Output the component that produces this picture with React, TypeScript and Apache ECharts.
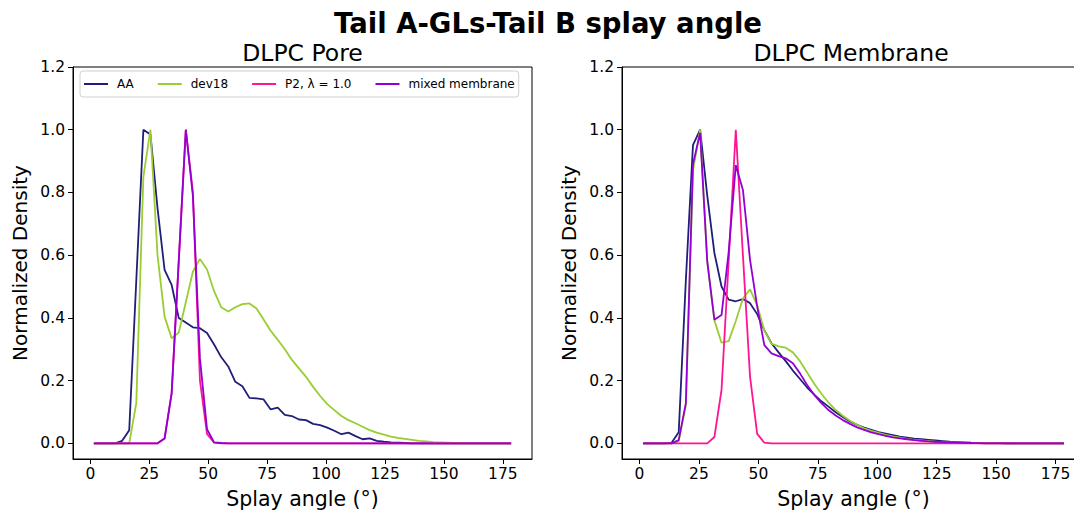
import React, { useEffect, useRef } from "react";
import * as echarts from "echarts";

const angles = [
  1.5, 4.5, 7.5, 10.5, 13.5, 16.5, 19.5, 22.5, 25.5, 28.5,
  31.5, 34.5, 37.5, 40.5, 43.5, 46.5, 49.5, 52.5, 55.5, 58.5,
  61.5, 64.5, 67.5, 70.5, 73.5, 76.5, 79.5, 82.5, 85.5, 88.5,
  91.5, 94.5, 97.5, 100.5, 103.5, 106.5, 109.5, 112.5, 115.5, 118.5,
  121.5, 124.5, 127.5, 130.5, 133.5, 136.5, 139.5, 142.5, 145.5, 148.5,
  151.5, 154.5, 157.5, 160.5, 163.5, 166.5, 169.5, 172.5, 175.5, 178.5,
];

const seriesNames = ["AA", "dev18", "P2, λ = 1.0", "mixed membrane"];
const seriesColors = ["#1f1f78", "#9acd32", "#ff1493", "#9400d3"];

const poreAA = [
  0, 0, 0, 0, 0.008, 0.042, 0.52, 1.0, 0.985, 0.75,
  0.553, 0.505, 0.4, 0.385, 0.37, 0.367, 0.352, 0.315, 0.275, 0.245,
  0.196, 0.182, 0.145, 0.143, 0.14, 0.108, 0.114, 0.091, 0.087, 0.076,
  0.074, 0.062, 0.058, 0.05, 0.04, 0.029, 0.034, 0.023, 0.013, 0.016,
  0.008, 0.005, 0.003, 0.002, 0.001, 0, 0, 0, 0, 0,
  0, 0, 0, 0, 0, 0, 0, 0, 0, 0,
];
const poreDev18 = [
  0, 0, 0, 0, 0, 0, 0.128, 0.85, 1.0, 0.6,
  0.404, 0.335, 0.353, 0.45, 0.547, 0.588, 0.554, 0.485, 0.434, 0.42,
  0.434, 0.444, 0.446, 0.43, 0.395, 0.359, 0.33, 0.3, 0.266, 0.239,
  0.212, 0.18, 0.151, 0.125, 0.106, 0.087, 0.074, 0.064, 0.053, 0.042,
  0.034, 0.028, 0.021, 0.017, 0.014, 0.011, 0.008, 0.006, 0.004, 0.003,
  0.002, 0.001, 0, 0, 0, 0, 0, 0, 0, 0,
];
const poreP2 = [
  0, 0, 0, 0, 0, 0, 0, 0, 0, 0,
  0.015, 0.16, 0.58, 1.0, 0.8, 0.2, 0.03, 0.002, 0, 0,
  0, 0, 0, 0, 0, 0, 0, 0, 0, 0,
  0, 0, 0, 0, 0, 0, 0, 0, 0, 0,
  0, 0, 0, 0, 0, 0, 0, 0, 0, 0,
  0, 0, 0, 0, 0, 0, 0, 0, 0, 0,
];
const poreMixed = [
  0, 0, 0, 0, 0, 0, 0, 0, 0, 0,
  0.015, 0.16, 0.58, 1.0, 0.79, 0.27, 0.045, 0.003, 0.001, 0,
  0, 0, 0, 0, 0, 0, 0, 0, 0, 0,
  0, 0, 0, 0, 0, 0, 0, 0, 0, 0,
  0, 0, 0, 0, 0, 0, 0, 0, 0, 0,
  0, 0, 0, 0, 0, 0, 0, 0, 0, 0,
];

const membAA = [
  0, 0, 0, 0, 0.002, 0.035, 0.52, 0.951, 1.0, 0.79,
  0.607, 0.5, 0.458, 0.453, 0.46, 0.447, 0.412, 0.361, 0.319, 0.29,
  0.262, 0.232, 0.205, 0.178, 0.155, 0.134, 0.117, 0.099, 0.084, 0.07,
  0.059, 0.05, 0.043, 0.036, 0.031, 0.026, 0.021, 0.018, 0.015, 0.013,
  0.011, 0.009, 0.007, 0.005, 0.004, 0.003, 0.002, 0.0015, 0.001, 0.0007,
  0.0004, 0.0002, 0, 0, 0, 0, 0, 0, 0, 0,
];
const membDev18 = [
  0, 0, 0, 0, 0, 0.008, 0.12, 0.87, 1.0, 0.58,
  0.392, 0.321, 0.326, 0.39, 0.462, 0.491, 0.44, 0.36, 0.318, 0.309,
  0.305, 0.29, 0.262, 0.226, 0.19, 0.158, 0.13, 0.107, 0.088, 0.072,
  0.059, 0.048, 0.04, 0.033, 0.027, 0.022, 0.018, 0.014, 0.011, 0.009,
  0.007, 0.005, 0.004, 0.003, 0.002, 0.0015, 0.001, 0.0006, 0.0003, 0,
  0, 0, 0, 0, 0, 0, 0, 0, 0, 0,
];
const membP2 = [
  0, 0, 0, 0, 0, 0, 0, 0, 0, 0,
  0.02, 0.17, 0.58, 1.0, 0.6, 0.212, 0.03, 0.002, 0, 0,
  0, 0, 0, 0, 0, 0, 0, 0, 0, 0,
  0, 0, 0, 0, 0, 0, 0, 0, 0, 0,
  0, 0, 0, 0, 0, 0, 0, 0, 0, 0,
  0, 0, 0, 0, 0, 0, 0, 0, 0, 0,
];
const membMixed = [
  0, 0, 0, 0, 0, 0.01, 0.128, 0.89, 0.99, 0.58,
  0.394, 0.409, 0.61, 0.887, 0.808, 0.585, 0.436, 0.313, 0.287, 0.278,
  0.271, 0.255, 0.223, 0.186, 0.154, 0.128, 0.106, 0.089, 0.074, 0.062,
  0.051, 0.043, 0.035, 0.029, 0.024, 0.019, 0.016, 0.013, 0.01, 0.008,
  0.006, 0.005, 0.004, 0.003, 0.002, 0.0015, 0.001, 0.0006, 0, 0,
  0, 0, 0, 0, 0, 0, 0, 0, 0, 0,
];

const xTicks = [0, 25, 50, 75, 100, 125, 150, 175];
const yTicks = [0, 0.2, 0.4, 0.6, 0.8, 1.0, 1.2];

const mainTitle = "Tail A-GLs-Tail B splay angle";
const panelTitles = ["DLPC Pore", "DLPC Membrane"];
const xLabel = "Splay angle (°)";
const yLabel = "Normalized Density";

const FONT = "DejaVu Sans";

export default function App() {
  const ref = useRef<HTMLDivElement>(null);

  useEffect(() => {
    if (!ref.current) return;
    const chart = echarts.init(ref.current, undefined, { renderer: "svg" });

    const panels = [
      [poreAA, poreDev18, poreP2, poreMixed],
      [membAA, membDev18, membP2, membMixed],
    ];

    const grids = [
      { left: 73, top: 67, width: 459, height: 392 },
      { left: 622, top: 67, width: 463, height: 392 },
    ];

    const mkX = (gi: number) => ({
      type: "value",
      gridIndex: gi,
      min: -7.35,
      max: 187.35,
      name: xLabel,
      nameLocation: "middle",
      nameGap: 29,
      nameTextStyle: { fontFamily: FONT, fontSize: 20.5, color: "#000" },
      axisLine: { show: true, onZero: false, lineStyle: { color: "#000", width: 1 } },
      axisTick: { show: true, inside: false, length: 5, customValues: xTicks, lineStyle: { color: "#000" } },
      axisLabel: {
        show: true,
        margin: 7,
        customValues: xTicks,
        fontFamily: FONT,
        fontSize: 15.5,
        color: "#000",
        formatter: (v: number) => String(v),
      },
      splitLine: { show: false },
    });

    const mkY = (gi: number) => ({
      type: "value",
      gridIndex: gi,
      min: -0.05,
      max: 1.2,
      name: yLabel,
      nameLocation: "middle",
      nameGap: 43,
      nameTextStyle: { fontFamily: FONT, fontSize: 20, color: "#000" },
      axisLine: { show: true, onZero: false, lineStyle: { color: "#000", width: 1 } },
      axisTick: { show: true, inside: false, length: 5, customValues: yTicks, lineStyle: { color: "#000" } },
      axisLabel: {
        show: true,
        margin: 8,
        customValues: yTicks,
        fontFamily: FONT,
        fontSize: 15.5,
        color: "#000",
        formatter: (v: number) => v.toFixed(1),
      },
      splitLine: { show: false },
    });

    const series: any[] = [];
    panels.forEach((arrs, gi) => {
      arrs.forEach((vals, si) => {
        series.push({
          type: "line",
          name: seriesNames[si],
          xAxisIndex: gi,
          yAxisIndex: gi,
          data: angles.map((a, i) => [a, vals[i]]),
          symbol: "none",
          showSymbol: false,
          lineStyle: { color: seriesColors[si], width: 1.8 },
          itemStyle: { color: seriesColors[si] },
          z: 2 + si,
        });
      });
    });

    chart.setOption({
      animation: false,
      backgroundColor: "#fff",
      grid: grids.map((g) => ({
        ...g,
        show: true,
        borderColor: "#000",
        borderWidth: 1,
        backgroundColor: "transparent",
        containLabel: false,
        outerBoundsMode: "none",
      })),
      xAxis: [mkX(0), mkX(1)],
      yAxis: [mkY(0), mkY(1)],
      legend: {
        show: true,
        data: seriesNames.map((n, i) => ({ name: n, icon: "rect", itemStyle: { color: seriesColors[i] } })),
        left: 80,
        top: 71,
        orient: "horizontal",
        padding: [7, 4, 7, 4],
        itemGap: 24,
        itemWidth: 24,
        itemHeight: 2,
        backgroundColor: "#fff",
        borderColor: "#d0d0d0",
        borderWidth: 1,
        borderRadius: 3,
        selectedMode: false,
        textStyle: { fontFamily: FONT, fontSize: 12, color: "#000", padding: [0, 0, 0, 4] },
      },
      graphic: [
        {
          type: "text",
          x: 548,
          y: 23,
          style: {
            text: mainTitle,
            fontFamily: FONT,
            fontSize: 27.5,
            fontWeight: "bold",
            fill: "#000",
            align: "center",
            verticalAlign: "middle",
          },
        },
        ...panelTitles.map((t, i) => ({
          type: "text",
          x: i === 0 ? 302.5 : 851,
          y: 53,
          style: {
            text: t,
            fontFamily: FONT,
            fontSize: 23.5,
            fill: "#000",
            align: "center",
            verticalAlign: "middle",
          },
        })),
      ],
      series,
    });

    return () => chart.dispose();
  }, []);

  return (
    <div
      style={{ position: "absolute", left: 0, top: 0, width: 1074, height: 510, overflow: "hidden" }}
    >
      <div ref={ref} style={{ width: 1100, height: 510 }} />
    </div>
  );
}
